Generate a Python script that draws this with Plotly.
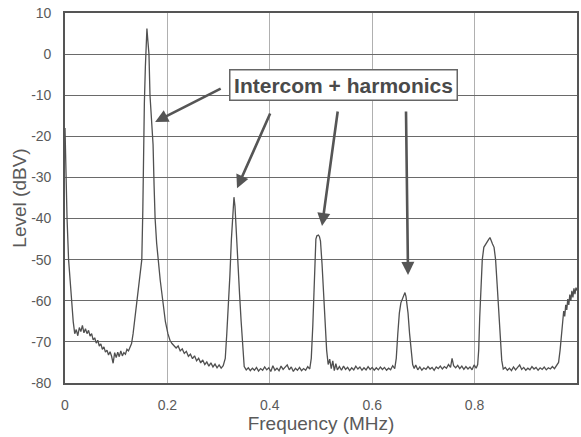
import plotly.graph_objects as go

freq_mhz = [
    0.000, 0.002, 0.004, 0.007, 0.010, 0.013, 0.016, 0.019, 0.022, 0.025, 0.028, 0.031, 0.034, 0.037, 0.040,
    0.043, 0.046, 0.049, 0.052, 0.055, 0.058, 0.061, 0.064, 0.067, 0.070, 0.073, 0.076, 0.079, 0.082, 0.085,
    0.088, 0.091, 0.094, 0.097, 0.100, 0.103, 0.106, 0.109, 0.112, 0.115, 0.118, 0.121, 0.124, 0.127, 0.130,
    0.133, 0.137, 0.141, 0.146, 0.150, 0.152, 0.153, 0.155, 0.157, 0.159, 0.160, 0.162, 0.164, 0.166, 0.169,
    0.172, 0.174, 0.176, 0.179, 0.182, 0.186, 0.191, 0.196, 0.201, 0.205, 0.209,
    0.213, 0.217, 0.221, 0.225, 0.229, 0.233, 0.237, 0.241, 0.245, 0.249, 0.253, 0.257, 0.261, 0.265, 0.269,
    0.273, 0.277, 0.281, 0.285, 0.289, 0.293, 0.297, 0.301, 0.305, 0.309,
    0.313, 0.316, 0.319, 0.322, 0.325, 0.328, 0.330, 0.332, 0.335, 0.338, 0.341, 0.344, 0.347, 0.350,
    0.354, 0.358, 0.362, 0.366, 0.370, 0.374, 0.378, 0.382, 0.386, 0.390, 0.394, 0.398, 0.402, 0.406, 0.410,
    0.414, 0.418, 0.422, 0.426, 0.430, 0.434, 0.438, 0.442, 0.446, 0.450, 0.454, 0.458, 0.462, 0.466, 0.470,
    0.474, 0.478,
    0.481, 0.484, 0.486, 0.488, 0.490, 0.492, 0.495, 0.497, 0.499, 0.502, 0.505, 0.508, 0.511, 0.514, 0.517,
    0.520, 0.523, 0.526, 0.529, 0.532,
    0.536, 0.540, 0.544, 0.548, 0.552, 0.556, 0.560, 0.564, 0.568, 0.572, 0.576, 0.580, 0.584, 0.588, 0.592,
    0.596, 0.600, 0.604, 0.608, 0.612, 0.616, 0.620, 0.624, 0.628, 0.632, 0.636, 0.640, 0.644,
    0.647, 0.650, 0.653, 0.656, 0.659, 0.662, 0.664, 0.666, 0.668, 0.670, 0.673, 0.676, 0.679, 0.682, 0.685,
    0.689, 0.693, 0.697, 0.701, 0.705, 0.709, 0.713, 0.717, 0.721, 0.725, 0.729, 0.733, 0.737, 0.741, 0.745,
    0.749, 0.753, 0.756, 0.759, 0.763, 0.767, 0.771, 0.775, 0.779, 0.783, 0.787, 0.791, 0.795, 0.799, 0.803,
    0.806,
    0.808, 0.810, 0.812, 0.815, 0.818, 0.821, 0.824, 0.827, 0.830, 0.832, 0.835, 0.838, 0.841, 0.844, 0.847,
    0.850, 0.853, 0.856,
    0.860, 0.864, 0.868, 0.872, 0.876, 0.880, 0.884, 0.888, 0.892, 0.896, 0.900, 0.904, 0.908, 0.912, 0.916,
    0.920, 0.924, 0.928, 0.932, 0.936, 0.940, 0.944, 0.948, 0.952, 0.956, 0.960,
    0.964, 0.967, 0.970, 0.972, 0.974, 0.976, 0.978, 0.980, 0.982, 0.984, 0.986, 0.988, 0.990, 0.992, 0.994,
    0.996, 0.998, 1.000,
]

level_dbv = [
    -18, -30, -40, -50, -56, -60, -65, -68, -67, -68.5, -66.5, -67.5, -66, -67.8, -66.8,
    -68, -67.2, -68.6, -68, -69.5, -69, -70.3, -69.6, -71, -70.5, -71.8, -71.2, -72.5, -72, -73.2,
    -72.4, -73.5, -75.2, -72.6, -73.8, -72.5, -73.6, -72.2, -73.4, -72.6, -73, -71.8, -72.2, -71, -70.4,
    -68, -64, -60, -55, -50, -38, -22, -12, -3, 3, 6.2, 3, 0, -10, -16,
    -22, -32, -40, -46, -50, -55, -60, -65, -68, -69.6, -70.4,
    -70.9, -71.5, -71, -72.2, -71.7, -72.8, -72.3, -73.5, -73, -74.1, -73.4, -74.6, -74, -75.1, -74.4,
    -75.5, -74.9, -75.9, -75.1, -76.1, -75.4, -76.3, -75.6, -76.4, -75.8,
    -74, -68, -62, -54, -45, -37.5, -34.8, -37, -45, -52, -58.5, -65, -72, -76,
    -76.8, -76.3, -77, -76.4, -76.9, -76.2, -77.1, -76.5, -76.9, -76.1, -76.8, -76.3, -77.2, -75.8, -76.9,
    -76.4, -77, -75.9, -76.7, -76.2, -75.6, -76.8, -76.1, -77.2, -76.4, -76.9, -76.2, -77, -76.5, -76.9,
    -76, -76.6,
    -74, -66, -58, -50, -45, -44.2, -44, -44.4, -45.5, -51, -59, -66, -72, -75.5, -74.2,
    -76.5, -74.6, -77, -75.3, -76.8,
    -76, -76.9, -75.9, -76.7, -76.2, -77, -76.3, -76.8, -75.9, -76.6, -76.1, -76.9, -76.3, -76.8, -76,
    -76.7, -76.2, -76.9, -76.3, -76.8, -76.1, -76.7, -76.2, -76.9, -76.4, -76.8, -75.8, -76.5,
    -74, -68, -63, -60.5, -59.6, -58.4, -58, -59, -60.5, -63, -68, -72.5, -75.5, -76.5, -75.6,
    -76.8, -76.1, -76.9, -76.3, -76.7, -76, -76.6, -76.2, -76.9, -76.1, -76.5, -75.9, -76.6, -76, -76.4,
    -75.5, -76.2, -74, -75.8, -76.3, -75.7, -76.5, -75.9, -76.7, -76, -76.6, -76.1, -76.8, -75.6, -76.4,
    -75.5,
    -72, -64, -57, -50, -47, -46.3, -45.8, -45.2, -44.6, -45.4, -46.2, -47, -50, -56, -63,
    -70, -74.5, -76.6,
    -76.2, -76.9, -76.4, -77, -76.1, -76.8, -76.3, -75.6, -76.7, -76.2, -76.9, -76.4, -76.8, -76, -76.6,
    -76.2, -76.9, -76.3, -76.7, -76.1, -76.8, -76.3, -76.6, -76, -76.5, -75.8,
    -75, -72, -68, -65, -62.5, -63.8, -61, -62.2, -59.6, -61, -58.5, -60, -57.6, -59.2, -57,
    -58.4, -56.8, -57.5,
]

x_ticks = [0, 0.2, 0.4, 0.6, 0.8, 1]
x_tick_labels = ["0", "0.2", "0.4", "0.6", "0.8", "1"]
y_ticks = [10, 0, -10, -20, -30, -40, -50, -60, -70, -80]
y_tick_labels = ["10", "0", "-10", "-20", "-30", "-40", "-50", "-60", "-70", "-80"]

label_text = "Intercom + harmonics"
label_pos = (0.5435, -7.5)
# arrows: (tip x, tip y, tail x, tail y)
arrows = [
    (0.176, -16.5, 0.307, -8.2),
    (0.336, -32.6, 0.402, -14.1),
    (0.502, -41.8, 0.533, -13.6),
    (0.670, -53.7, 0.666, -13.6),
]

FONT = "Liberation Sans, Arial, sans-serif"
TXT = "#5a5a5a"

fig = go.Figure()
fig.add_trace(go.Scatter(
    x=freq_mhz, y=level_dbv, mode="lines",
    line=dict(color="#505050", width=1.3),
    showlegend=False, hoverinfo="skip",
))

annotations = [
    dict(x=label_pos[0], y=label_pos[1], xref="x", yref="y", text=label_text,
         showarrow=False, font=dict(family=FONT, size=21, color="#4a4a4a", weight="bold"),
         bgcolor="white", bordercolor="#666666", borderwidth=1.5, borderpad=2,
         width=222, height=25),
]
for tx, ty, ax_, ay_ in arrows:
    annotations.append(dict(
        x=tx, y=ty, ax=ax_, ay=ay_, xref="x", yref="y", axref="x", ayref="y",
        text="", showarrow=True, arrowhead=2, arrowsize=1.0, arrowwidth=2.6,
        arrowcolor="#555555", standoff=0,
    ))

fig.update_layout(
    width=581, height=437,
    margin=dict(l=65, r=4, t=13, b=54),
    paper_bgcolor="white", plot_bgcolor="white",
    font=dict(family=FONT, color=TXT),
    annotations=annotations,
    xaxis=dict(
        range=[0, 1], tickvals=x_ticks, ticktext=x_tick_labels,
        showgrid=True, gridcolor="#b0b0b0", gridwidth=1,
        showline=True, linecolor="#555555", linewidth=1.6, mirror=True,
        ticks="outside", ticklen=8, tickcolor="rgba(0,0,0,0)",
        tickfont=dict(family=FONT, size=14, color=TXT),
        title=dict(text="Frequency (MHz)", font=dict(family=FONT, size=19, color=TXT), standoff=0),
        zeroline=False, fixedrange=True, automargin=False,
    ),
    yaxis=dict(
        range=[-80, 10], tickvals=y_ticks, ticktext=y_tick_labels,
        showgrid=True, gridcolor="#6a6a6a", gridwidth=1.3,
        showline=True, linecolor="#555555", linewidth=1.6, mirror=True,
        ticks="outside", ticklen=9, tickcolor="rgba(0,0,0,0)",
        tickfont=dict(family=FONT, size=14, color=TXT),
        title=dict(text="Level (dBV)", font=dict(family=FONT, size=19, color=TXT), standoff=0),
        zeroline=False, fixedrange=True, automargin=False,
    ),
)

fig.write_html("out.html", include_plotlyjs=True, config={"displayModeBar": False})
